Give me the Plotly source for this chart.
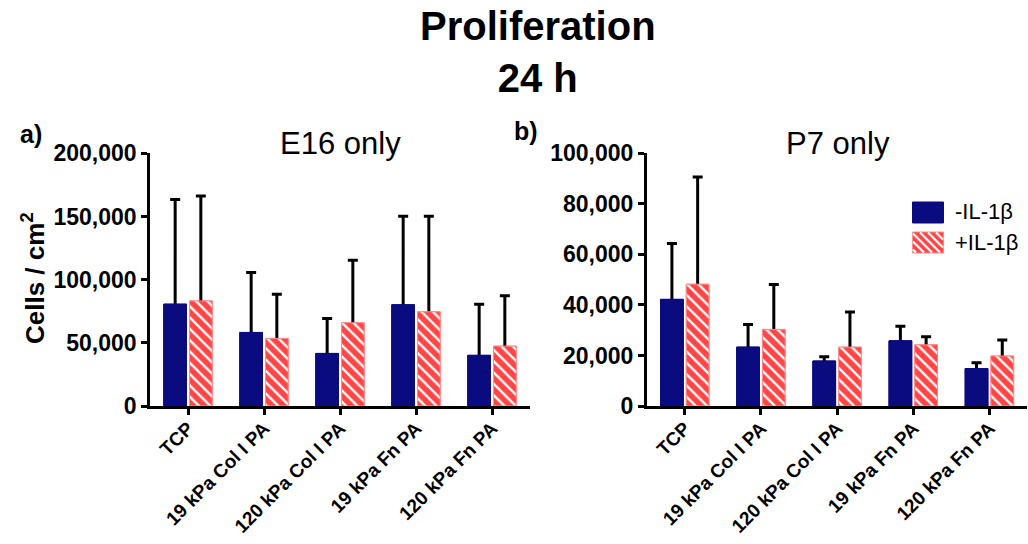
import plotly.graph_objects as go

categories = ["TCP", "19 kPa Col I PA", "120 kPa Col I PA", "19 kPa Fn PA", "120 kPa Fn PA"]

# Panel a) E16 only
e16_minus_mean = [80600, 58200, 41600, 80100, 40100]
e16_minus_sd = [82800, 47500, 27700, 70100, 40500]
e16_plus_mean = [83200, 53500, 65900, 74600, 47400]
e16_plus_sd = [83100, 35000, 49500, 75600, 39800]

# Panel b) P7 only
p7_minus_mean = [42200, 23300, 17800, 25800, 14800]
p7_minus_sd = [22100, 9000, 1700, 5800, 2300]
p7_plus_mean = [48200, 30300, 23300, 24200, 19800]
p7_plus_sd = [42400, 17800, 13900, 3200, 6300]

series_names = ["-IL-1β", "+IL-1β"]

W, H = 1028, 544
FONT = "Liberation Sans, Arial, sans-serif"
NAVY = "#0B0B80"
RED = "#FF4545"
RED_EDGE = "#FF8C8C"


def px(x):
    return x / W


def py(y):
    return 1 - y / H


fig = go.Figure()

panels = [
    ("x", "y", e16_minus_mean, e16_minus_sd, e16_plus_mean, e16_plus_sd, 3200),
    ("x2", "y2", p7_minus_mean, p7_minus_sd, p7_plus_mean, p7_plus_sd, 1600),
]


def bar_marker(is_red):
    m = dict(color=RED if is_red else NAVY,
             line=dict(color=RED_EDGE if is_red else NAVY, width=1))
    if is_red:
        m["pattern"] = dict(shape="\\", fgcolor="white", bgcolor=RED,
                            size=8, solidity=0.3, fillmode="replace")
    return m


for xa, ya, mm, ms, pm, ps, hide in panels:
    # bars carrying the (upper) error bars
    for name, mean, sd, grp in [(series_names[0], mm, ms, "a"), (series_names[1], pm, ps, "b")]:
        fig.add_trace(go.Bar(
            x=categories, y=mean, name=name, xaxis=xa, yaxis=ya,
            offsetgroup=grp, marker=bar_marker(grp == "b"), showlegend=False,
            error_y=dict(type="data", symmetric=False, array=sd,
                         arrayminus=[hide] * len(sd), color="black",
                         thickness=3, width=5),
        ))
    # identical bars on top so the error bar starts at the bar top
    for name, mean, grp in [(series_names[0], mm, "a"), (series_names[1], pm, "b")]:
        fig.add_trace(go.Bar(
            x=categories, y=mean, name=name, xaxis=xa, yaxis=ya,
            offsetgroup=grp, marker=bar_marker(grp == "b"), showlegend=False,
            hoverinfo="skip",
        ))

tickfont = dict(family=FONT, size=23, color="black", weight="bold")
xtickfont = dict(family=FONT, size=19, color="black", weight="bold")

axis_common = dict(showline=True, linecolor="black", linewidth=2.5, ticks="outside",
                   ticklen=6, tickwidth=2.5, tickcolor="black", showgrid=False,
                   zeroline=False, automargin=False)

y_top, y_bot = 153.3, 406
fig.update_layout(
    template="none",
    width=W, height=H,
    margin=dict(l=0, r=0, t=0, b=0, pad=0),
    paper_bgcolor="white", plot_bgcolor="white",
    barmode="group", bargap=0.324, bargroupgap=0.117,
    font=dict(family=FONT, color="black"),
    showlegend=False,
    xaxis=dict(domain=[px(150), px(530)], anchor="y", range=[-0.5, 4.5],
               tickangle=-45, tickfont=xtickfont, ticklabelstandoff=-5, **axis_common),
    yaxis=dict(domain=[py(y_bot), py(y_top)], anchor="x", range=[0, 200000],
               dtick=50000, tickformat=",d", tickfont=tickfont, **axis_common),
    xaxis2=dict(domain=[px(646.7), 0.9995], anchor="y2", range=[-0.5, 4.5],
                tickangle=-45, tickfont=xtickfont, ticklabelstandoff=-5, **axis_common),
    yaxis2=dict(domain=[py(y_bot), py(y_top)], anchor="x2", range=[0, 100000],
                dtick=20000, tickformat=",d", tickfont=tickfont, **axis_common),
)

ann = []
ann.append(dict(text="Proliferation<br>24 h", x=px(538), y=py(52), xref="paper", yref="paper",
                showarrow=False, xanchor="center", yanchor="middle",
                font=dict(family=FONT, size=40, color="black", weight="bold")))
ann.append(dict(text="E16 only", x=px(340), y=py(143), xref="paper", yref="paper",
                showarrow=False, xanchor="center", yanchor="middle",
                font=dict(family=FONT, size=31, color="black")))
ann.append(dict(text="P7 only", x=px(838), y=py(143), xref="paper", yref="paper",
                showarrow=False, xanchor="center", yanchor="middle",
                font=dict(family=FONT, size=31, color="black")))
ann.append(dict(text="a)", x=px(18), y=py(134), xref="paper", yref="paper",
                showarrow=False, xanchor="left", yanchor="middle",
                font=dict(family=FONT, size=25, color="black", weight="bold")))
ann.append(dict(text="b)", x=px(512), y=py(131), xref="paper", yref="paper",
                showarrow=False, xanchor="left", yanchor="middle",
                font=dict(family=FONT, size=25, color="black", weight="bold")))
ann.append(dict(text="Cells / cm<sup>2</sup>", x=px(33), y=py(278), xref="paper", yref="paper",
                showarrow=False, xanchor="center", yanchor="middle", textangle=-90,
                font=dict(family=FONT, size=26, color="black", weight="bold")))
# legend text
ann.append(dict(text=series_names[0], x=px(953), y=py(212), xref="paper", yref="paper",
                showarrow=False, xanchor="left", yanchor="middle",
                font=dict(family=FONT, size=22, color="black")))
ann.append(dict(text=series_names[1], x=px(953), y=py(242), xref="paper", yref="paper",
                showarrow=False, xanchor="left", yanchor="middle",
                font=dict(family=FONT, size=22, color="black")))

shapes = []
# legend swatches
lx0, lx1 = 912.5, 943.5
shapes.append(dict(type="rect", xref="paper", yref="paper",
                   x0=px(lx0), x1=px(lx1), y0=py(223), y1=py(202),
                   fillcolor=NAVY, line=dict(color=NAVY, width=1)))
ry0, ry1 = 232, 253
shapes.append(dict(type="rect", xref="paper", yref="paper",
                   x0=px(lx0), x1=px(lx1), y0=py(ry1), y1=py(ry0),
                   fillcolor=RED, line=dict(color=RED_EDGE, width=1)))
# white diagonal stripes "\" clipped to the swatch
hgt = ry1 - ry0
step = 8
s = lx0 - hgt + 4
while s < lx1:
    xa0, ya0 = s, ry0
    xa1, ya1 = s + hgt, ry1
    if xa0 < lx0:
        ya0 = ry0 + (lx0 - xa0)
        xa0 = lx0
    if xa1 > lx1:
        ya1 = ry1 - (xa1 - lx1)
        xa1 = lx1
    if xa1 > xa0 + 1:
        shapes.append(dict(type="line", xref="paper", yref="paper",
                           x0=px(xa0 + 0.5), y0=py(ya0 + 0.5), x1=px(xa1 - 0.5), y1=py(ya1 - 0.5),
                           line=dict(color="white", width=2.2)))
    s += step

fig.update_layout(annotations=ann, shapes=shapes)

fig.write_html("out.html", config={"displayModeBar": False},
               post_script="document.body.style.margin='0px';")
